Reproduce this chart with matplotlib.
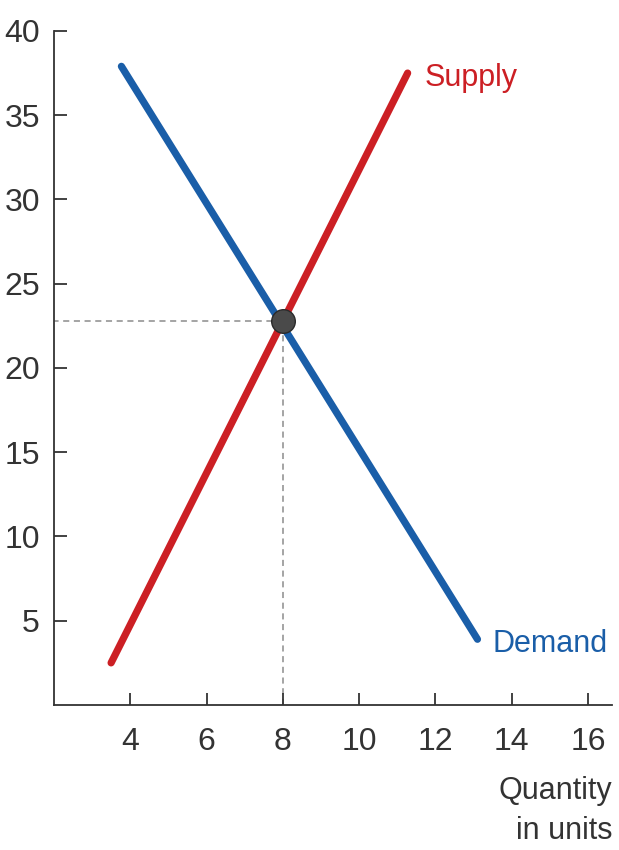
import matplotlib
matplotlib.use("Agg")
from matplotlib import pyplot as plt

# quantity / price endpoints
demand_q = [3.77, 13.1]
demand_p = [37.9, 3.9]
supply_q = [3.5, 11.27]
supply_p = [2.5, 37.5]
eq_q, eq_p = 8, 22.8

x_ticks = [4, 6, 8, 10, 12, 14, 16]
y_ticks = [5, 10, 15, 20, 25, 30, 35, 40]

plt.rcParams['font.family'] = ['Liberation Sans Narrow', 'Liberation Sans', 'DejaVu Sans']

fig = plt.figure(figsize=(6.19, 8.5), dpi=100)
ax = fig.add_axes([0.087, 0.1706, 0.902, 0.793])

blue = '#1a5ea8'
red = '#cc1f24'

# dashed guides to the equilibrium
ax.plot([0, eq_q], [eq_p, eq_p], ls=(0, (4, 3)), color='#8c8c8c', lw=1.1, zorder=1)
ax.plot([eq_q, eq_q], [0, eq_p], ls=(0, (4, 3)), color='#8c8c8c', lw=1.1, zorder=1)

ax.plot(supply_q, supply_p, color=red, lw=5.2, solid_capstyle='round', zorder=2)
ax.plot(demand_q, demand_p, color=blue, lw=5.2, solid_capstyle='round', zorder=3)
ax.plot([eq_q], [eq_p], 'o', ms=17, color='#4a4a4a', mec='#2a2a2a', mew=1, zorder=4)

ax.text(11.72, 37.2, 'Supply', color=red, fontsize=22, ha='left', va='center')
ax.text(13.5, 3.6, 'Demand', color=blue, fontsize=22, ha='left', va='center')

ax.set_xlim(2, 16.63)
ax.set_ylim(0, 40)
ax.set_xticks(x_ticks)
ax.set_yticks(y_ticks)
ax.spines['top'].set_visible(False)
ax.spines['right'].set_visible(False)
for s in ('left', 'bottom'):
    ax.spines[s].set_linewidth(1.3)
    ax.spines[s].set_color('#333333')
ax.tick_params(direction='in', length=9, width=1.3, color='#333333',
               labelsize=23, labelcolor='#333333')
ax.tick_params(axis='y', pad=10)
ax.tick_params(axis='x', pad=16)

fig.text(0.989, 0.046, 'Quantity\nin units', ha='right', va='center',
         fontsize=22, color='#333333', linespacing=1.45)

fig.savefig('out.png', dpi=100)
